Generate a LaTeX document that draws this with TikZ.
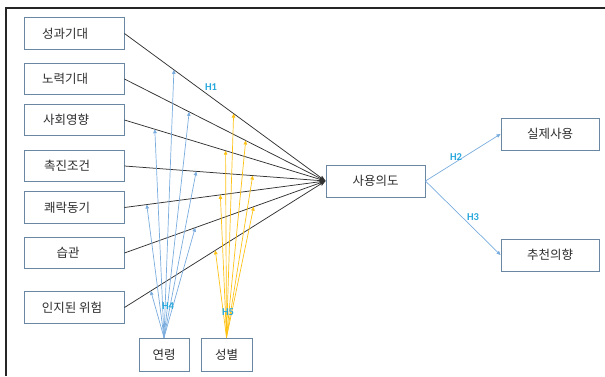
\documentclass[tikz,border=0pt]{standalone}
\usepackage{fontspec}
\setmainfont{Noto Sans CJK KR}
\newfontfamily\hfont{Carlito}
\usetikzlibrary{arrows.meta,calc}
\definecolor{boxline}{RGB}{105,135,162}
\definecolor{txt}{RGB}{45,45,45}
\definecolor{blk}{RGB}{50,50,50}
\definecolor{bl}{RGB}{122,172,222}
\definecolor{yl}{RGB}{255,194,20}
\definecolor{hc}{RGB}{40,168,220}
\tikzset{
  box/.style={draw=boxline,line width=0.9pt,fill=white,text=txt,font=\fontsize{12.5}{14}\selectfont,inner sep=0pt},
  bigbox/.style={box,minimum width=100pt,minimum height=31.5pt},
  lshift/.style={execute at end node={\hspace*{#1}}},
  blackline/.style={draw=blk,line width=0.75pt,-{Stealth[length=6pt,width=4.5pt]}},
  blueline/.style={draw=bl,line width=0.7pt,-{Triangle[length=4pt,width=3.5pt]}},
  yellowline/.style={draw=yl,line width=0.7pt,-{Triangle[length=4pt,width=3.5pt]}},
  hlab/.style={text=hc,font=\hfont\bfseries\fontsize{10.5}{12}\selectfont,inner sep=0pt},
  frame/.style={draw=black!85,line width=1.5pt}
}
\begin{document}
\begin{tikzpicture}[x=1pt,y=-1pt]
\useasboundingbox (0,0) rectangle (605,376);
\coordinate (ftr) at (605,8);
\coordinate (ftl) at (6,8);
\coordinate (fbl) at (6,376);
\draw[frame] (ftr) -- (ftl) -- (fbl);

\node[bigbox,lshift=18pt] (pe) at (74,33.5) {성과기대};
\node[bigbox,lshift=18pt] (ee) at (74,79) {노력기대};
\node[bigbox,lshift=16pt] (si) at (74,120) {사회영향};
\node[bigbox,lshift=14pt] (fc) at (74,166) {촉진조건};
\node[bigbox,lshift=14pt] (hm) at (74,207.5) {쾌락동기};
\node[bigbox,lshift=12pt] (ha) at (74,253) {습관};
\node[bigbox,lshift=4pt] (pr) at (74,307.5) {인지된 위험};
\node[box,minimum width=50pt,minimum height=33pt] (age) at (164,354.5) {연령};
\node[box,minimum width=51pt,minimum height=33pt] (gen) at (226.5,354.5) {성별};
\node[box,minimum width=99pt,minimum height=32pt] (bi) at (375.5,181) {사용의도};
\node[box,minimum width=98pt,minimum height=32pt] (ub) at (550,134) {실제사용};
\node[box,minimum width=98pt,minimum height=32pt] (rec) at (550,255) {추천의향};

\coordinate (hub) at (325.5,181);
\foreach \n in {pe,ee,si,fc,hm,ha,pr}{
  \draw[blackline] (\n.east) -- (hub);
}

% blue (age) moderation arrows
\foreach \n/\p in {pe/0.246,ee/0.322,si/0.151,fc/0.357,hm/0.111,ha/0.352,pr/0.131}{
  \coordinate (b\n) at ($(\n.east)!\p!(hub)$);
  \draw[blueline] (age.north) -- (b\n);
}
% yellow (gender) moderation arrows
\foreach \n/\p in {pe/0.543,ee/0.603,si/0.503,fc/0.638,hm/0.477,ha/0.643,pr/0.452}{
  \coordinate (y\n) at ($(\n.east)!\p!(hub)$);
  \draw[yellowline] (gen.north) -- (y\n);
}

\draw[blueline] (bi.east) -- (ub.west);
\draw[blueline] (bi.east) -- (rec.west);

\node[hlab] (h1) at (211,87) {H1};
\node[hlab] (h2) at (456,157) {H2};
\node[hlab] (h3) at (473,217) {H3};
\node[hlab] (h4) at (168,306) {H4};
\node[hlab] (h5) at (228,312) {H5};
\end{tikzpicture}
\end{document}
